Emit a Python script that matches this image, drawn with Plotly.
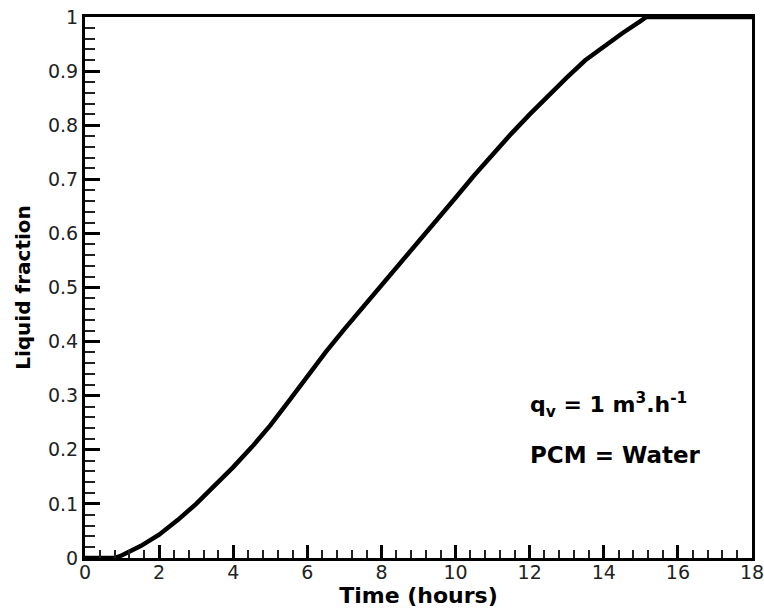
import plotly.graph_objects as go

time_h = [0, 0.5, 0.8, 1.0, 1.5, 2, 2.5, 3, 3.5, 4, 4.5, 5, 5.5, 6, 6.5, 7, 7.5, 8,
          8.5, 9, 9.5, 10, 10.5, 11, 11.5, 12, 12.5, 13, 13.5, 14, 14.5, 15, 15.15, 18]
liquid_fraction = [0, 0, 0, 0.005, 0.022, 0.043, 0.07, 0.10, 0.133, 0.168, 0.205, 0.245,
                   0.29, 0.337, 0.381, 0.423, 0.463, 0.503, 0.545, 0.585, 0.625, 0.666, 0.707,
                   0.746, 0.784, 0.82, 0.855, 0.888, 0.92, 0.946, 0.97, 0.993, 1.0, 1.0]

x_ticks = [0, 2, 4, 6, 8, 10, 12, 14, 16, 18]
y_ticks = [0, 0.1, 0.2, 0.3, 0.4, 0.5, 0.6, 0.7, 0.8, 0.9, 1]
y_tick_text = ["0", "0.1", "0.2", "0.3", "0.4", "0.5", "0.6", "0.7", "0.8", "0.9", "1"]

fig = go.Figure()
fig.add_trace(go.Scatter(x=time_h, y=liquid_fraction, mode="lines",
                         line=dict(color="black", width=4.5, shape="linear"),
                         showlegend=False, cliponaxis=False))

font_family = "DejaVu Sans, Verdana, sans-serif"
fig.update_layout(
    width=764, height=609,
    margin=dict(l=85, r=12, t=17, b=51, autoexpand=False),
    paper_bgcolor="white", plot_bgcolor="white",
    font=dict(family=font_family, color="#222"),
)
fig.update_xaxes(
    range=[0, 18], tickvals=x_ticks, ticks="inside", ticklen=13, tickwidth=2.5, tickcolor="black",
    showline=True, linecolor="black", linewidth=3, mirror=True, showgrid=False, zeroline=False,
    automargin=False, ticklabeloverflow="allow", ticklabelstandoff=-5,
    tickfont=dict(size=19, family=font_family, color="#222"),
    minor=dict(dtick=0.4, ticks="inside", ticklen=8, tickwidth=2, tickcolor="#222", showgrid=False),
    title=dict(text="<b>Time (hours)</b>", font=dict(size=22, family=font_family, color="black"), standoff=2),
)
fig.update_yaxes(
    range=[0, 1], tickvals=y_ticks, ticktext=y_tick_text, ticks="inside", ticklen=15, tickwidth=2.5,
    tickcolor="black",
    showline=True, linecolor="black", linewidth=3, mirror=True, showgrid=False, zeroline=False,
    automargin=False, ticklabeloverflow="allow",
    tickfont=dict(size=19, family=font_family, color="#222"),
    minor=dict(dtick=0.02, ticks="inside", ticklen=10, tickwidth=2, tickcolor="#222", showgrid=False),
    title=dict(text="<b>Liquid fraction</b>", font=dict(size=20, family=font_family, color="black"), standoff=12),
)

fig.add_annotation(x=11.95, y=0.283, xref="x", yref="y", xanchor="left", yanchor="middle",
                   text="<b>q<sub>v</sub> = 1 m<sup>3</sup>.h<sup>-1</sup></b>", showarrow=False,
                   font=dict(size=22, family=font_family, color="black"))
fig.add_annotation(x=11.95, y=0.19, xref="x", yref="y", xanchor="left", yanchor="middle",
                   text="<b>PCM = Water</b>", showarrow=False,
                   font=dict(size=23, family=font_family, color="black"))

fig.write_html("out.html")
